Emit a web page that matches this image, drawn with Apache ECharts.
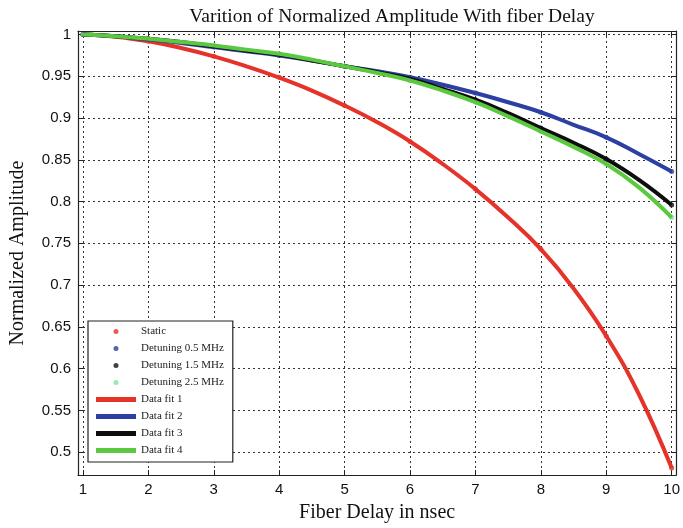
<!DOCTYPE html>
<html><head><meta charset="utf-8">
<script src="https://cdn.jsdelivr.net/npm/echarts@6/dist/echarts.min.js"></script>
<style>html,body{margin:0;padding:0;background:#fff}#c{width:683px;height:528px}</style>
</head><body><div id="c"></div>
<script>
// ---- data ----
const xPts = [1, 2, 3, 4, 5, 6, 7, 8, 9, 10];
const staticPts = [1.0, 0.992, 0.974, 0.949, 0.915, 0.872, 0.815, 0.743, 0.639, 0.481];
const det05Pts = [1.0, 0.994, 0.985, 0.975, 0.962, 0.949, 0.930, 0.907, 0.877, 0.836];
const det15Pts = [1.0, 0.995, 0.986, 0.976, 0.962, 0.947, 0.922, 0.888, 0.851, 0.796];
const det25Pts = [1.0, 0.995, 0.987, 0.977, 0.962, 0.945, 0.919, 0.884, 0.845, 0.781];

const fitX = [1, 1.5, 2, 2.5, 3, 3.5, 4, 4.5, 5, 5.5, 6, 6.5, 7, 7.5, 8, 8.5, 9, 9.5, 10];
const fit1 = [1.0, 0.9975, 0.992, 0.984, 0.974, 0.962, 0.9485, 0.933, 0.915, 0.895, 0.872, 0.845, 0.815, 0.781, 0.743, 0.696, 0.639, 0.569, 0.481];
const fit2 = [1.0, 0.998, 0.994, 0.990, 0.985, 0.980, 0.975, 0.969, 0.962, 0.956, 0.949, 0.940, 0.930, 0.919, 0.907, 0.892, 0.877, 0.857, 0.836];
const fit3 = [1.0, 0.998, 0.995, 0.991, 0.986, 0.981, 0.976, 0.969, 0.962, 0.955, 0.947, 0.935, 0.922, 0.906, 0.888, 0.8705, 0.851, 0.826, 0.796];
const fit4 = [1.0, 0.998, 0.995, 0.991, 0.987, 0.982, 0.977, 0.970, 0.962, 0.954, 0.945, 0.933, 0.919, 0.902, 0.884, 0.8655, 0.845, 0.817, 0.781];

const xTicks = [1, 2, 3, 4, 5, 6, 7, 8, 9, 10];
const yTicks = [0.5, 0.55, 0.6, 0.65, 0.7, 0.75, 0.8, 0.85, 0.9, 0.95, 1];

const titleText = 'Varition of Normalized Amplitude With fiber Delay';
const xName = 'Fiber Delay in nsec';
const yName = 'Normalized Amplitude';
const pointNames = ['Static', 'Detuning 0.5 MHz', 'Detuning 1.5 MHz', 'Detuning 2.5 MHz'];
const fitNames = ['Data fit 1', 'Data fit 2', 'Data fit 3', 'Data fit 4'];

// ---- styling ----
const pointColors = ['#e03228', '#2b3c9e', '#111111', '#7fe0a6'];
const fitColors = ['#e5332a', '#2c3fa3', '#0d0d0d', '#5bc93f'];
const serif = '"Liberation Serif", "Times New Roman", serif';
const sans = '"Liberation Sans", Arial, sans-serif';

const zip = (xs, ys) => xs.map((x, i) => [x, ys[i]]);
const pointSets = [staticPts, det05Pts, det15Pts, det25Pts];
const fitSets = [fit1, fit2, fit3, fit4];

const gridLine = { show: true, lineStyle: { color: '#333', width: 1, type: [2, 3] } };
const frame = { show: true, onZero: false, lineStyle: { color: '#222', width: 1.2 } };
const fmtY = v => String(+(+v).toFixed(2));

const series = [];
pointSets.forEach((s, i) => series.push({
  name: pointNames[i], type: 'scatter', data: zip(xPts, s),
  symbol: 'circle', symbolSize: 5, itemStyle: { color: pointColors[i] }, z: 2
}));
fitSets.forEach((s, i) => series.push({
  name: fitNames[i], type: 'line', data: zip(fitX, s),
  smooth: 0.45, showSymbol: false, symbol: 'none',
  lineStyle: { color: fitColors[i], width: 4 }, itemStyle: { color: fitColors[i] }, z: 3 + i
}));

const chart = echarts.init(document.getElementById('c'), null, { renderer: 'canvas' });
chart.setOption({
  animation: false,
  backgroundColor: '#fff',
  title: {
    text: titleText, left: 387, top: 2, textAlign: 'center',
    textStyle: { fontFamily: serif, fontWeight: 'normal', fontSize: 19.5, color: '#111' }
  },
  grid: { left: 75, right: 5, top: 31, bottom: 51 },
  legend: {
    orient: 'vertical', left: 88, top: 321,
    backgroundColor: '#fff', borderColor: '#222', borderWidth: 1.2,
    padding: [5, 9, 6, 8], itemGap: 6, itemWidth: 40, itemHeight: 5,
    textStyle: { fontFamily: serif, fontSize: 11, color: '#222' },
    data: pointNames.map(n => ({ name: n, icon: 'circle' }))
      .concat(fitNames.map(n => ({ name: n, icon: 'rect' })))
  },
  xAxis: [{
    type: 'value', min: 0.924, max: 10.07,
    name: xName, nameLocation: 'middle', nameGap: 28,
    nameTextStyle: { fontFamily: serif, fontSize: 20, color: '#111' },
    axisLine: frame,
    axisTick: { show: true, inside: true, length: 5, customValues: xTicks, lineStyle: { color: '#222' } },
    axisLabel: { customValues: xTicks, fontFamily: sans, fontSize: 15, color: '#111', margin: 7 },
    splitLine: gridLine
  }, {
    type: 'value', position: 'top', min: 0.924, max: 10.07,
    axisLine: frame,
    axisTick: { show: true, inside: true, length: 5, customValues: xTicks, lineStyle: { color: '#222' } },
    axisLabel: { show: false }, splitLine: { show: false }
  }],
  yAxis: [{
    type: 'value', min: 0.4726, max: 1.0043,
    name: yName, nameLocation: 'middle', nameGap: 50,
    nameTextStyle: { fontFamily: serif, fontSize: 20, color: '#111' },
    axisLine: frame,
    axisTick: { show: true, inside: true, length: 5, customValues: yTicks, lineStyle: { color: '#222' } },
    axisLabel: { customValues: yTicks, formatter: fmtY, fontFamily: sans, fontSize: 15, color: '#111', margin: 7 },
    splitLine: gridLine
  }, {
    type: 'value', position: 'right', min: 0.4726, max: 1.0043,
    axisLine: frame,
    axisTick: { show: true, inside: true, length: 5, customValues: yTicks, lineStyle: { color: '#222' } },
    axisLabel: { show: false }, splitLine: { show: false }
  }],
  series: series
});
</script></body></html>
